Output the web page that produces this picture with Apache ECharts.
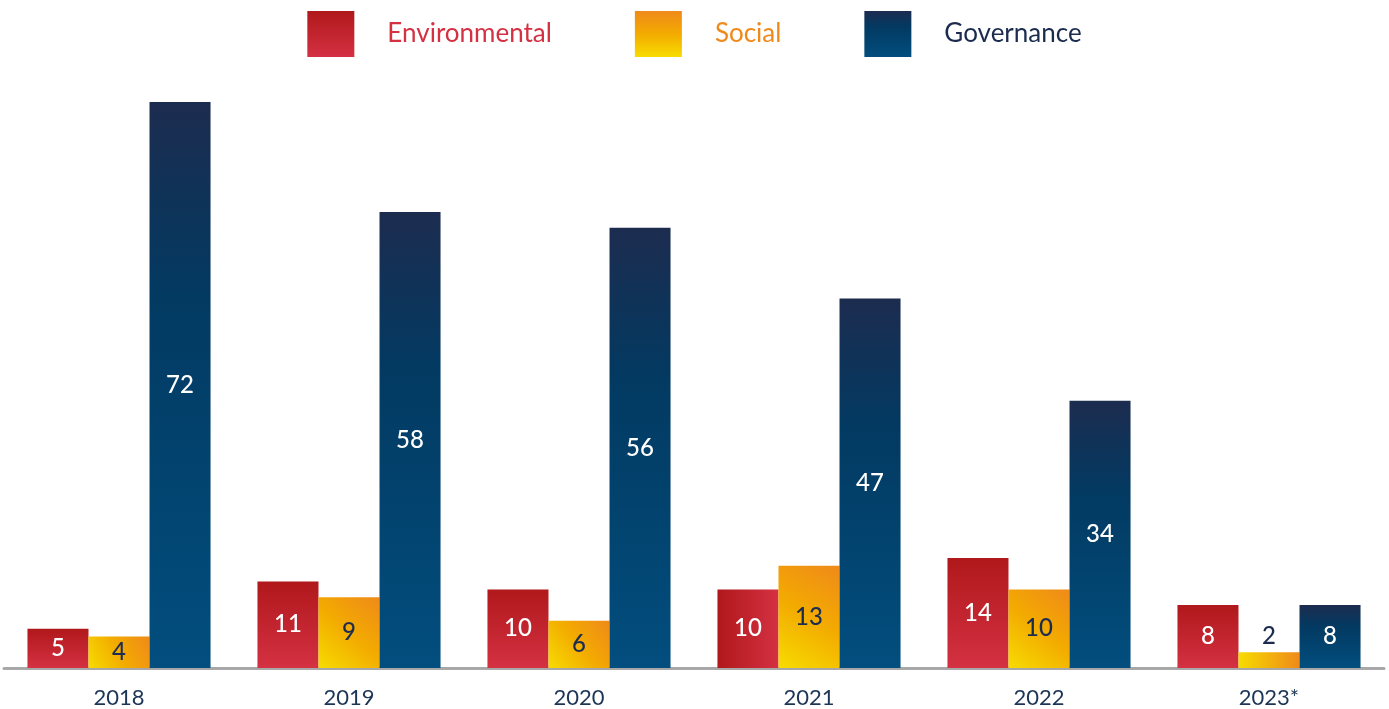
<!DOCTYPE html>
<html><head><meta charset="utf-8">
<script src="https://cdn.jsdelivr.net/npm/echarts@6/dist/echarts.min.js"></script>
<style>html,body{margin:0;padding:0;background:#fff}#c{width:1389px;height:709px}</style>
</head><body><div id="c"></div>
<script>
const categories = ['2018','2019','2020','2021','2022','2023*'];
const environmental = [5, 11, 10, 10, 14, 8];
const social = [4, 9, 6, 13, 10, 2];
const governance = [72, 58, 56, 47, 34, 8];

const G = echarts.graphic.LinearGradient;
const redV = new G(0,0,0,1,[{offset:0,color:'#b0181b'},{offset:1,color:'#d43142'}]);
const redH = new G(0,0,1,0,[{offset:0,color:'#b0181b'},{offset:1,color:'#d43142'}]);
const yelD = new G(1,0,0,1,[{offset:0,color:'#ef8a1a'},{offset:0.5,color:'#f3ab00'},{offset:1,color:'#f7dc00'}]);
const yelH = new G(0,0,1,0,[{offset:0,color:'#f7dc00'},{offset:1,color:'#ef8a1a'}]);
const yelV = new G(0,0,0,1,[{offset:0,color:'#ef8a1a'},{offset:0.5,color:'#f3ab00'},{offset:1,color:'#f7dc00'}]);
const navV = new G(0,0,0,1,[{offset:0,color:'#1c2c4f'},{offset:0.35,color:'#023a62'},{offset:1,color:'#024e7e'}]);

const FONT = 'Lato, "Open Sans", sans-serif';
const lab = (c) => ({show:true, position:'inside', color:c, fontSize:24, fontFamily:FONT, fontWeight:500});

const chart = echarts.init(document.getElementById('c'));
chart.setOption({
  animation:false,
  legend:{
    left:'center', top:11, padding:0, itemWidth:47, itemHeight:46, itemGap:83,
    icon:'rect',
    data:[
      {name:'Environmental', itemStyle:{color:redV}, textStyle:{color:'#d43142'}},
      {name:'Social', itemStyle:{color:yelV}, textStyle:{color:'#ef8a1a'}},
      {name:'Governance', itemStyle:{color:navV}, textStyle:{color:'#1c2c4f'}}
    ],
    textStyle:{fontSize:26, fontFamily:FONT, padding:[4,0,0,28]}
  },
  grid:{left:4, right:5, top:102, bottom:41},
  xAxis:{
    type:'category', data:categories,
    axisLine:{lineStyle:{color:'#a8a8a8', width:3}},
    axisTick:{show:false},
    axisLabel:{color:'#1c3556', fontSize:22, fontFamily:FONT, margin:19}
  },
  yAxis:{type:'value', min:0, max:72, show:false, splitLine:{show:false}},
  series:[
    {name:'Environmental', type:'bar', barGap:'0%', barCategoryGap:'20.4%',
     itemStyle:{color:redV}, label:lab('#ffffff'),
     data:environmental.map((v,i)=> i===3 ? {value:v, itemStyle:{color:redH}} : v)},
    {name:'Social', type:'bar', barGap:'0%', barCategoryGap:'20.4%',
     itemStyle:{color:yelD}, label:lab('#1c2c4f'),
     data:social.map((v,i)=> i===5 ? {value:v, itemStyle:{color:yelH}, label:{position:'top', distance:4}} : v)},
    {name:'Governance', type:'bar', barGap:'0%', barCategoryGap:'20.4%',
     itemStyle:{color:navV}, label:lab('#ffffff'),
     data:governance}
  ]
});
</script></body></html>
